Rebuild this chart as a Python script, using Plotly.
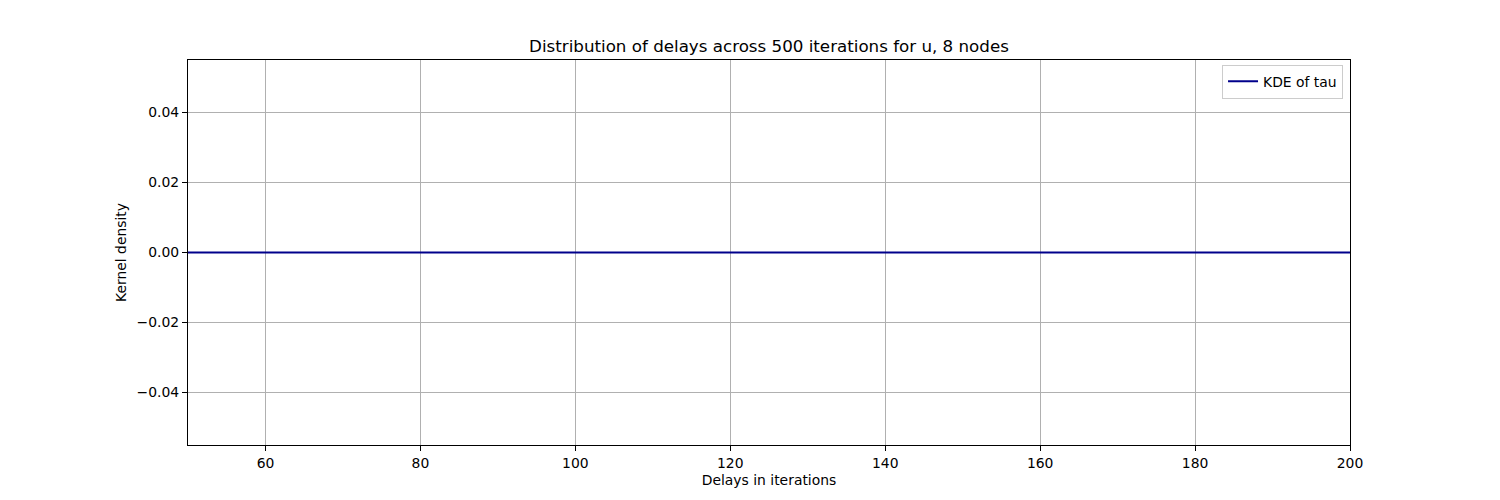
import plotly.graph_objects as go

# Data: KDE of tau evaluated over delay grid (flat zero density)
delays = [50, 60, 80, 100, 120, 140, 160, 180, 200]
kde_tau = [0, 0, 0, 0, 0, 0, 0, 0, 0]

x_ticks = [60, 80, 100, 120, 140, 160, 180, 200]
y_ticks = [-0.04, -0.02, 0.0, 0.02, 0.04]
y_tick_labels = ["\u22120.04", "\u22120.02", "0.00", "0.02", "0.04"]

FONT = "DejaVu Sans"
OFF = 8  # page body margin offset

fig = go.Figure()
fig.add_trace(go.Scatter(
    x=delays, y=kde_tau, mode="lines", name="KDE of tau",
    line=dict(color="#00008b", width=2),
))

axis_common = dict(
    showline=True, linecolor="black", linewidth=1.1, mirror=True,
    ticks="outside", ticklen=5, tickwidth=1.1, tickcolor="black",
    showgrid=True, gridcolor="#b0b0b0", gridwidth=1.1,
    zeroline=False, tickfont=dict(family=FONT, size=13.9, color="black"),
)

fig.update_layout(
    width=1500, height=500,
    margin=dict(l=188 - OFF, r=150 + OFF, t=60 - OFF, b=55 + OFF),
    paper_bgcolor="white", plot_bgcolor="white",
    font=dict(family=FONT, size=13.9, color="black"),
    title=dict(text="Distribution of delays across 500 iterations for u, 8 nodes",
               x=((188 + 1350) / 2 - OFF) / 1500, xanchor="center",
               y=1 - (46 - OFF) / 500, yanchor="middle",
               font=dict(family=FONT, size=16.7, color="black")),
    xaxis=dict(range=[50, 200], tickvals=x_ticks,
               title=dict(text="Delays in iterations", font=dict(size=13.9), standoff=5),
               **axis_common),
    yaxis=dict(range=[-0.055, 0.055], tickvals=y_ticks, ticktext=y_tick_labels,
               title=dict(text="Kernel density", font=dict(size=13.9), standoff=6),
               **axis_common),
    showlegend=True,
    legend=dict(x=0.994, xanchor="right", y=0.988, yanchor="top",
                bgcolor="rgba(255,255,255,0.8)", bordercolor="#cccccc", borderwidth=1,
                tracegroupgap=0,
                font=dict(family=FONT, size=13.9, color="black")),
)

fig.write_html("out.html")
